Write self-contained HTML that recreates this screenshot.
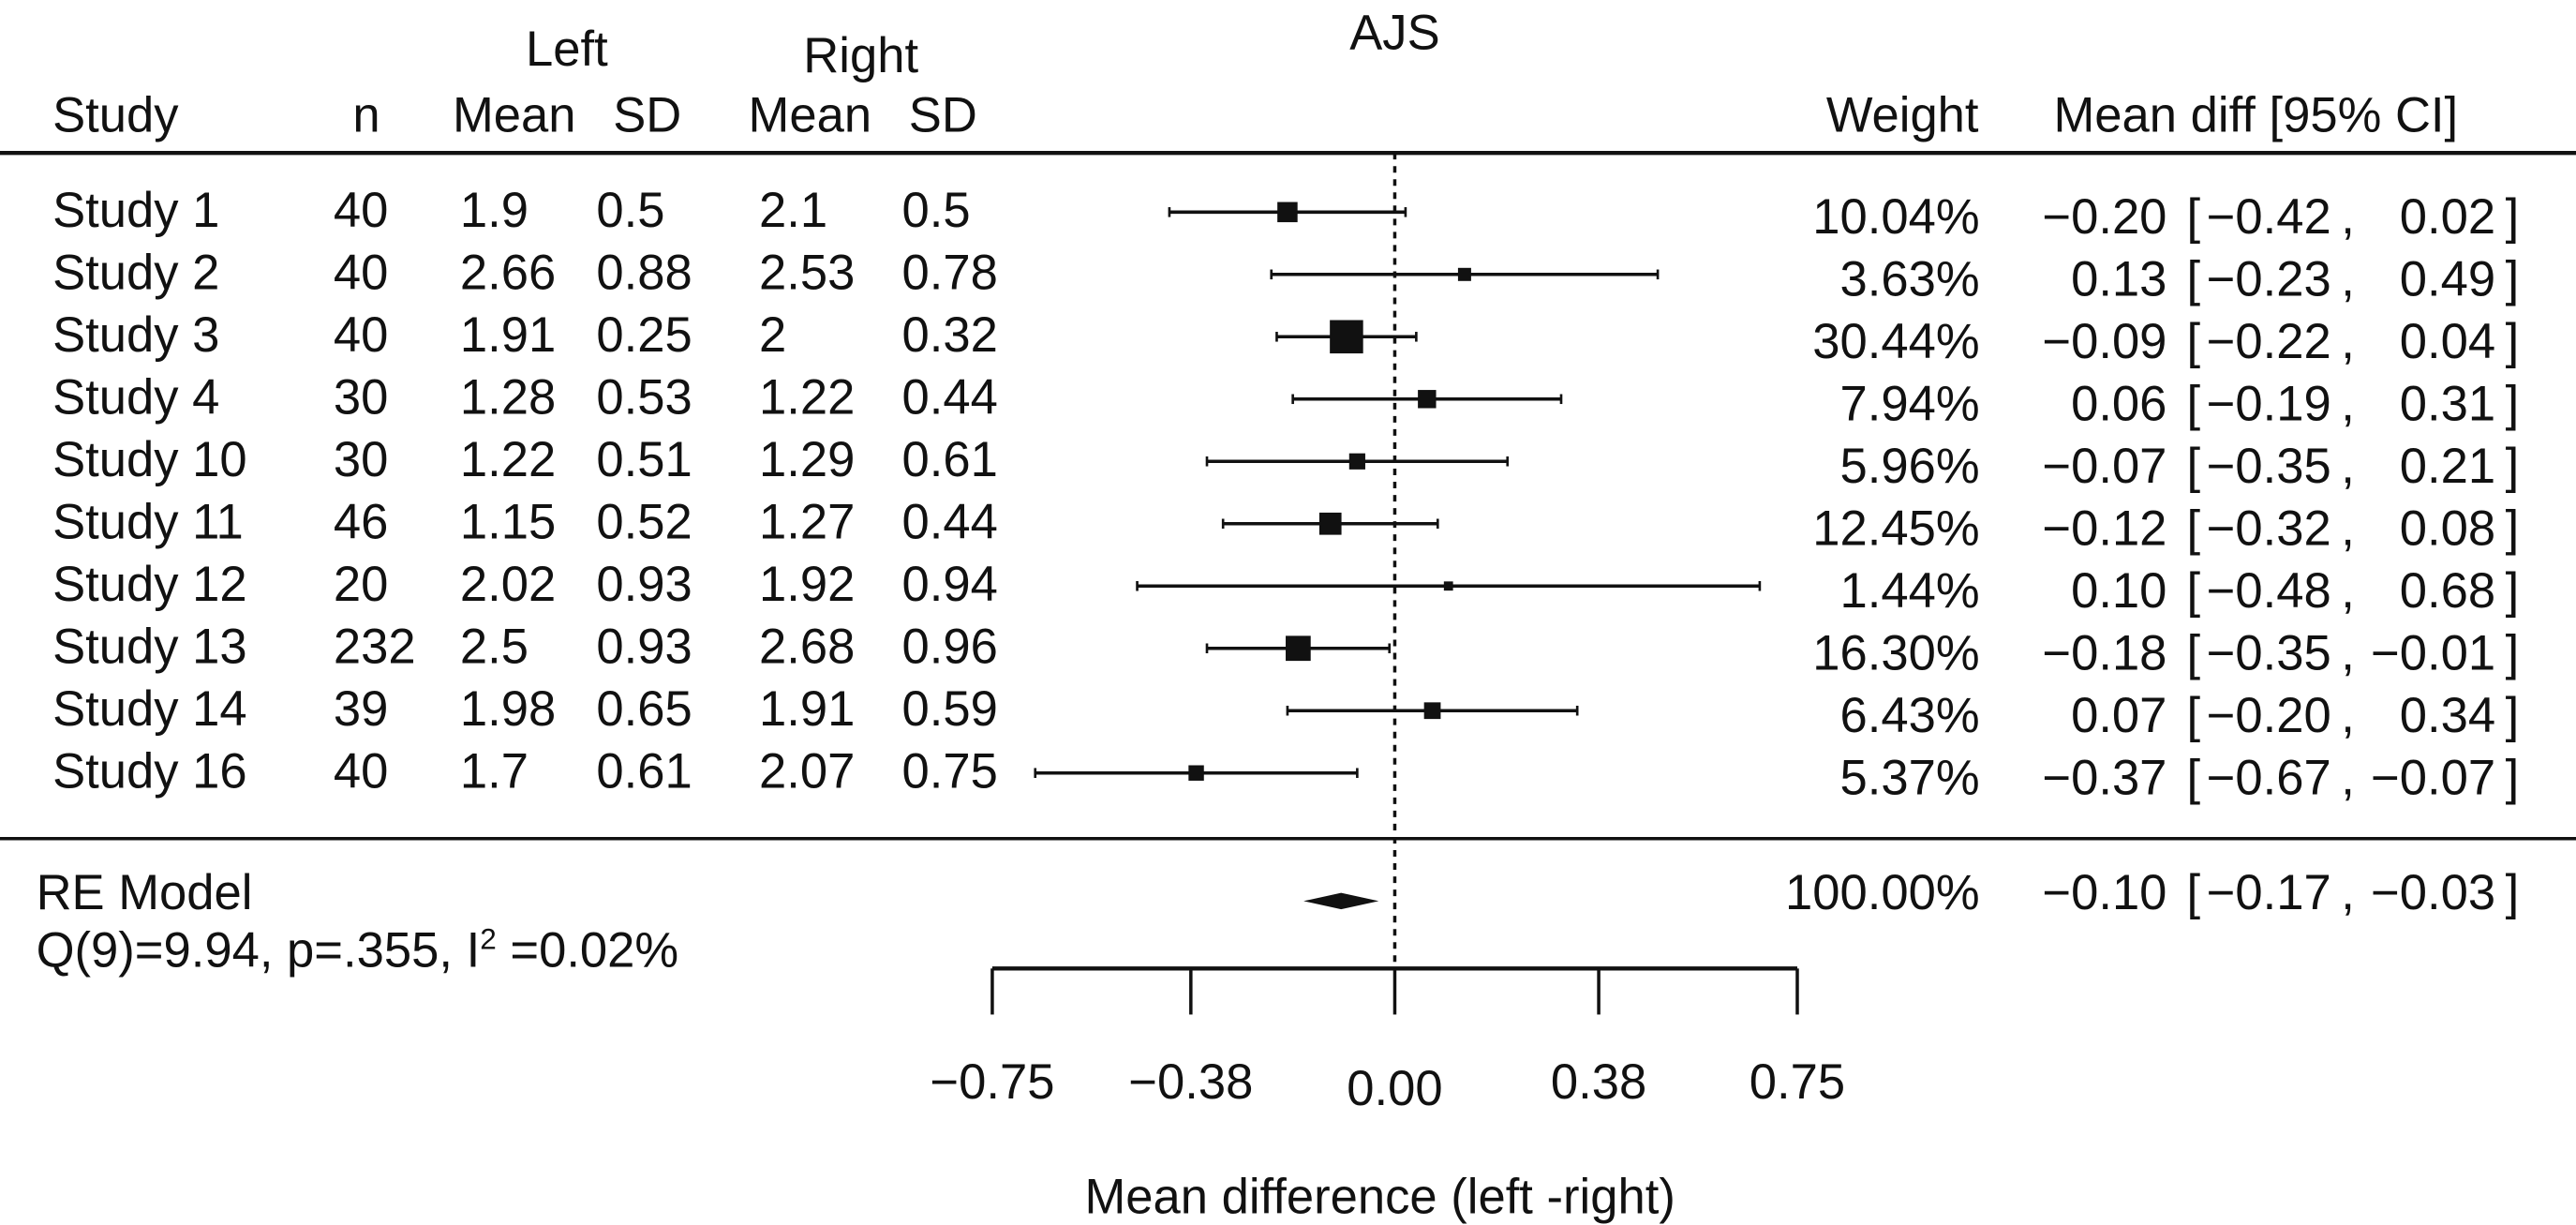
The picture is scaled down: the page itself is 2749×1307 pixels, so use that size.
<!DOCTYPE html>
<html><head><meta charset="utf-8"><style>
html,body{margin:0;padding:0;background:#fff;}
svg{display:block;}
text{font-family:"Liberation Sans",sans-serif;fill:#111;font-size:30px;}
</style></head><body>
<svg id="chart" width="2749" height="1307" viewBox="0 0 1568 745" preserveAspectRatio="none" xmlns="http://www.w3.org/2000/svg">
<text x="849" y="30" text-anchor="middle">AJS</text>
<text x="345" y="40" text-anchor="middle">Left</text>
<text x="524" y="44" text-anchor="middle">Right</text>
<g>
<text x="32" y="80">Study</text>
<text x="223" y="80" text-anchor="middle">n</text>
<text x="313" y="80" text-anchor="middle">Mean</text>
<text x="394" y="80" text-anchor="middle">SD</text>
<text x="493" y="80" text-anchor="middle">Mean</text>
<text x="574" y="80" text-anchor="middle">SD</text>
<text x="1158" y="80" text-anchor="middle">Weight</text>
<text x="1250" y="80">Mean diff [95% CI]</text>
</g>
<line x1="0" y1="93" x2="1568" y2="93" stroke="#111" stroke-width="2.5"/>
<line x1="0" y1="510" x2="1568" y2="510" stroke="#111" stroke-width="2"/>
<g id="rows"></g>
<g id="axis"></g>
<text x="22" y="553">RE Model</text>
<text x="22" y="588">Q(9)=9.94, p=.355, I<tspan dy="-11" font-size="18">2</tspan><tspan dy="11"> =0.02%</tspan></text>
<text x="840" y="738" text-anchor="middle">Mean difference (left -right)</text>
</svg>
<script>
const studies=["Study 1","Study 2","Study 3","Study 4","Study 10","Study 11","Study 12","Study 13","Study 14","Study 16"];
const nVals=["40","40","40","30","30","46","20","232","39","40"];
const leftMean=["1.9","2.66","1.91","1.28","1.22","1.15","2.02","2.5","1.98","1.7"];
const leftSD=["0.5","0.88","0.25","0.53","0.51","0.52","0.93","0.93","0.65","0.61"];
const rightMean=["2.1","2.53","2","1.22","1.29","1.27","1.92","2.68","1.91","2.07"];
const rightSD=["0.5","0.78","0.32","0.44","0.61","0.44","0.94","0.96","0.59","0.75"];
const weights=[10.04,3.63,30.44,7.94,5.96,12.45,1.44,16.30,6.43,5.37];
const est=[-0.20,0.13,-0.09,0.06,-0.07,-0.12,0.10,-0.18,0.07,-0.37];
const lower=[-0.42,-0.23,-0.22,-0.19,-0.35,-0.32,-0.48,-0.35,-0.20,-0.67];
const upper=[0.02,0.49,0.04,0.31,0.21,0.08,0.68,-0.01,0.34,-0.07];
const summary=[-0.10,-0.17,-0.03];
const ticks=[-0.75,-0.38,0,0.38,0.75];
const tickLabels=["\u22120.75","\u22120.38","0.00","0.38","0.75"];
const NS="http://www.w3.org/2000/svg";
const xs=v=>849+v*(245/0.75);
const ys=i=>129+i*37.9;
const fmt=v=>(v<0?"\u2212":"")+Math.abs(v).toFixed(2);
function mk(tag,attrs,parent,txt){const e=document.createElementNS(NS,tag);for(const k in attrs)e.setAttribute(k,attrs[k]);if(txt!==undefined)e.textContent=txt;parent.appendChild(e);return e;}
function ciText(g,by,w,e,l,u){
  mk('text',{x:1205,y:by,'text-anchor':'end'},g,w);
  mk('text',{x:1319,y:by,'text-anchor':'end'},g,fmt(e));
  mk('text',{x:1331,y:by},g,"[");
  mk('text',{x:1419,y:by,'text-anchor':'end'},g,fmt(l));
  mk('text',{x:1425,y:by},g,",");
  mk('text',{x:1519,y:by,'text-anchor':'end'},g,fmt(u));
  mk('text',{x:1525,y:by},g,"]");
}
const rows=document.getElementById('rows');
const axis=document.getElementById('axis');
const ref=mk('line',{x1:xs(0),y1:93,x2:xs(0),y2:589,stroke:'#111','stroke-width':2,'stroke-dasharray':'4,4'},axis);


studies.forEach((s,i)=>{
  const y=ys(i), by=y+9;
  const g=mk('g',{},rows);
  
  
  mk('text',{x:32,y:by},g,s);
  mk('text',{x:203,y:by},g,nVals[i]);
  mk('text',{x:280,y:by},g,leftMean[i]);
  mk('text',{x:363,y:by},g,leftSD[i]);
  mk('text',{x:462,y:by},g,rightMean[i]);
  mk('text',{x:549,y:by},g,rightSD[i]);
  ciText(g,by+4,weights[i].toFixed(2)+"%",est[i],lower[i],upper[i]);
  const ci=mk('line',{x1:xs(lower[i]),y1:y,x2:xs(upper[i]),y2:y,stroke:'#111','stroke-width':2},g);
  
  
  mk('line',{x1:xs(lower[i]),y1:y-3,x2:xs(lower[i]),y2:y+3,stroke:'#111','stroke-width':1.5},g);
  mk('line',{x1:xs(upper[i]),y1:y-3,x2:xs(upper[i]),y2:y+3,stroke:'#111','stroke-width':1.5},g);
  const sz=3.4*Math.sqrt(weights[i])+1.5;
  const sq=mk('rect',{x:xs(est[i])-sz/2,y:y-sz/2,width:sz,height:sz,fill:'#111'},g);
  
  
});
const sy=548;
const dm=mk('polygon',{points:`${xs(summary[1])},${sy} ${xs(summary[0])},${sy-5} ${xs(summary[2])},${sy} ${xs(summary[0])},${sy+5}`,fill:'#111'},rows);


const sg=mk('g',{},rows);


ciText(sg,553,"100.00%",summary[0],summary[1],summary[2]);
const al=mk('line',{x1:xs(ticks[0]),y1:589,x2:xs(ticks[ticks.length-1]),y2:589,stroke:'#111','stroke-width':2.5},axis);


ticks.forEach((t,i)=>{
  const tk=mk('line',{x1:xs(t),y1:589,x2:xs(t),y2:617,stroke:'#111','stroke-width':2},axis);
  
  
  const lb=mk('text',{x:xs(t),y:t===0?672:668,'text-anchor':'middle'},axis,tickLabels[i]);
  
  
});
</script>
</body></html>
